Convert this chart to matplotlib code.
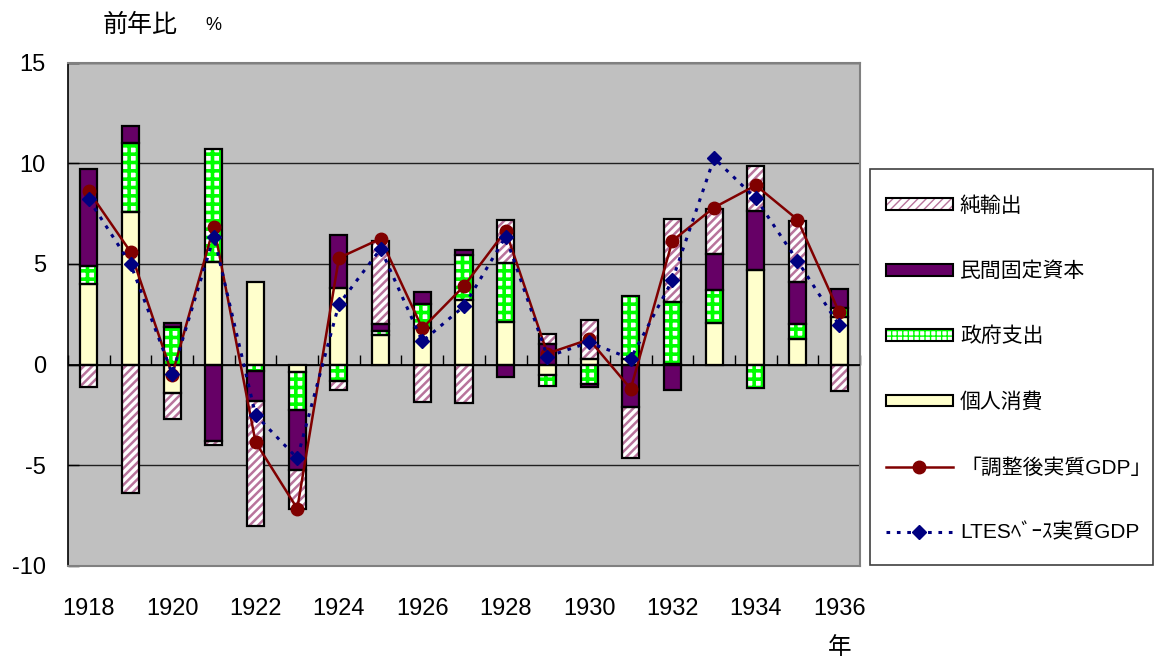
import matplotlib
matplotlib.use("Agg")
import matplotlib.pyplot as plt
import numpy as np
from matplotlib.patches import Patch, Rectangle
from matplotlib.lines import Line2D
from matplotlib.legend_handler import HandlerTuple

plt.rcParams['font.family'] = ['Liberation Sans', 'Noto Sans CJK JP', 'DejaVu Sans']

years = list(range(1918, 1937))
tick_labels = [str(y) for y in years[::2]]

consumption = [4.0, 7.6, -1.4, 5.1, 4.1, -0.35, 3.8, 1.45, 1.8, 3.2, 2.1, -0.5, 0.3, 0.3, 0.05, 2.05, 4.7, 1.25, 2.35]
government = [0.9, 3.4, 1.85, 5.6, -0.3, -1.9, -0.8, 0.2, 1.2, 2.25, 2.95, -0.55, -0.95, 3.1, 3.05, 1.65, -1.15, 0.75, 0.45]
investment = [4.8, 0.85, 0.2, -3.8, -1.5, -3.0, 2.65, 0.35, 0.6, 0.25, -0.6, 1.0, -0.15, -2.1, -1.25, 1.8, 2.95, 2.1, 0.95]
net_exports = [-1.1, -6.4, -1.3, -0.2, -6.2, -1.9, -0.45, 4.15, -1.85, -1.9, 2.15, 0.5, 1.9, -2.55, 4.15, 2.25, 2.2, 3.05, -1.3]
adj_gdp = [8.6, 5.6, -0.5, 6.85, -3.85, -7.15, 5.3, 6.25, 1.8, 3.9, 6.65, 0.55, 1.25, -1.2, 6.15, 7.8, 8.9, 7.2, 2.6]
ltes_gdp = [8.2, 5.0, -0.45, 6.35, -2.5, -4.65, 3.0, 5.75, 1.15, 2.9, 6.35, 0.4, 1.1, 0.3, 4.2, 10.25, 8.25, 5.15, 1.95]

series_names = ['個人消費', '政府支出', '民間固定資本', '純輸出']
line_names = ['「調整後実質GDP」', 'LTES\uff8d\uff9e\uff70\uff7d実質GDP']

W, H = 1155, 661
fig = plt.figure(figsize=(W / 100, H / 100), dpi=100)
ax = fig.add_axes([68 / W, 1 - 566 / H, (860 - 68) / W, (566 - 62.5) / H])
ax.set_facecolor('#C0C0C0')

x = np.arange(len(years))
bw = 0.41

PINK = '#B8749C'
GREEN = '#00FF00'
styles = [
    dict(facecolor='#FFFFCC', hatch=None, hcol=None, hlw=1.0),
    dict(facecolor='white', hatch='++', hcol=GREEN, hlw=2.6),
    dict(facecolor='#660066', hatch=None, hcol=None, hlw=1.0),
    dict(facecolor='white', hatch='////', hcol=PINK, hlw=1.8),
]

pos_base = np.zeros(len(x))
neg_base = np.zeros(len(x))
for vals, st in zip([consumption, government, investment, net_exports], styles):
    v = np.array(vals)
    bottoms = np.where(v >= 0, pos_base, neg_base)
    if st['hatch']:
        with plt.rc_context({'hatch.linewidth': st['hlw'], 'hatch.color': st['hcol']}):
            ax.bar(x, v, bw, bottom=bottoms, color=st['facecolor'], edgecolor=st['hcol'],
                   hatch=st['hatch'], linewidth=0, zorder=2)
    else:
        ax.bar(x, v, bw, bottom=bottoms, color=st['facecolor'], linewidth=0, zorder=2)
    ax.bar(x, v, bw, bottom=bottoms, fill=False, edgecolor='black', linewidth=1.6, zorder=3)
    pos_base = pos_base + np.where(v >= 0, v, 0)
    neg_base = neg_base + np.where(v < 0, v, 0)

ax.plot(x, adj_gdp, color='#800000', lw=1.8, marker='o', ms=9, mfc='#800000', mec='#800000', zorder=5)
ax.plot(x, ltes_gdp, color='#000080', lw=2.2, ls=(0, (1.2, 2.2)), marker='D', ms=7.5,
        mfc='#000080', mec='#000080', zorder=6)

ax.set_xlim(-0.5, len(x) - 0.5)
ax.set_ylim(-10, 15)
ax.set_yticks([-10, -5, 0, 5, 10, 15])
ax.set_yticklabels(['-10', '-5', '0', '5', '10', '15'])
ax.yaxis.grid(True, color='#202020', lw=1.0, zorder=1)
ax.set_axisbelow(True)
ax.axhline(0, color='black', lw=1.3, zorder=4)
ax.tick_params(axis='y', direction='in', length=8, width=1, pad=16, labelsize=17)
ax.set_xticks(x[::2])
ax.set_xticklabels(tick_labels)
ax.tick_params(axis='x', length=0, pad=23, labelsize=17)

for s in ['top', 'right', 'bottom']:
    ax.spines[s].set_color('#808080')
    ax.spines[s].set_linewidth(1.5)
ax.spines['left'].set_color('black')
ax.spines['left'].set_linewidth(1.2)

sec = ax.secondary_xaxis(0.4)
sec.set_xticks(np.arange(len(x) + 1) - 0.5)
sec.tick_params(axis='x', direction='in', length=7, width=1, labelbottom=False, color='black')
sec.spines['bottom'].set_visible(False)

fig.text(103 / W, 1 - 25 / H, '前年比', fontsize=18, va='center', ha='left')
fig.text(205 / W, 1 - 25 / H, '%', fontsize=13, va='center', ha='left')
fig.text(840 / W, 1 - 648 / H, '年', fontsize=17, va='center', ha='center')

# legend frame
fig.patches.append(Rectangle((870 / W, 1 - 565 / H), 283 / W, 396 / H, transform=fig.transFigure,
                             facecolor='white', edgecolor='#404040', lw=1.2, zorder=0))

with plt.rc_context({'hatch.linewidth': 1.8}):
    h_nx = Patch(facecolor='white', edgecolor=PINK, hatch='////', lw=0)
with plt.rc_context({'hatch.linewidth': 2.2}):
    h_g = Patch(facecolor='white', edgecolor=GREEN, hatch='+++', lw=0)
frame1 = Patch(fill=False, edgecolor='black', lw=1.5)
frame2 = Patch(fill=False, edgecolor='black', lw=1.5)
handles = [
    (h_nx, frame1),
    Patch(facecolor='#660066', edgecolor='black', lw=1.5),
    (h_g, frame2),
    Patch(facecolor='#FFFFCC', edgecolor='black', lw=1.5),
    Line2D([], [], color='#800000', lw=1.8, marker='o', ms=9, mfc='#800000', mec='#800000'),
    Line2D([], [], color='#000080', lw=2.2, ls=(0, (1.2, 2.2)), marker='D', ms=7.5, mfc='#000080', mec='#000080'),
]
labels = ['純輸出', '民間固定資本', '政府支出', '個人消費'] + line_names
leg = fig.legend(handles, labels, loc='upper left', bbox_to_anchor=(886 / W, 1 - 196 / H),
                 fontsize=15, frameon=False,
                 handlelength=3.2, handleheight=0.5, labelspacing=2.2, borderpad=0,
                 handletextpad=0.35, borderaxespad=0,
                 handler_map={tuple: HandlerTuple(ndivide=1)})

fig.savefig('out.png', dpi=100)
